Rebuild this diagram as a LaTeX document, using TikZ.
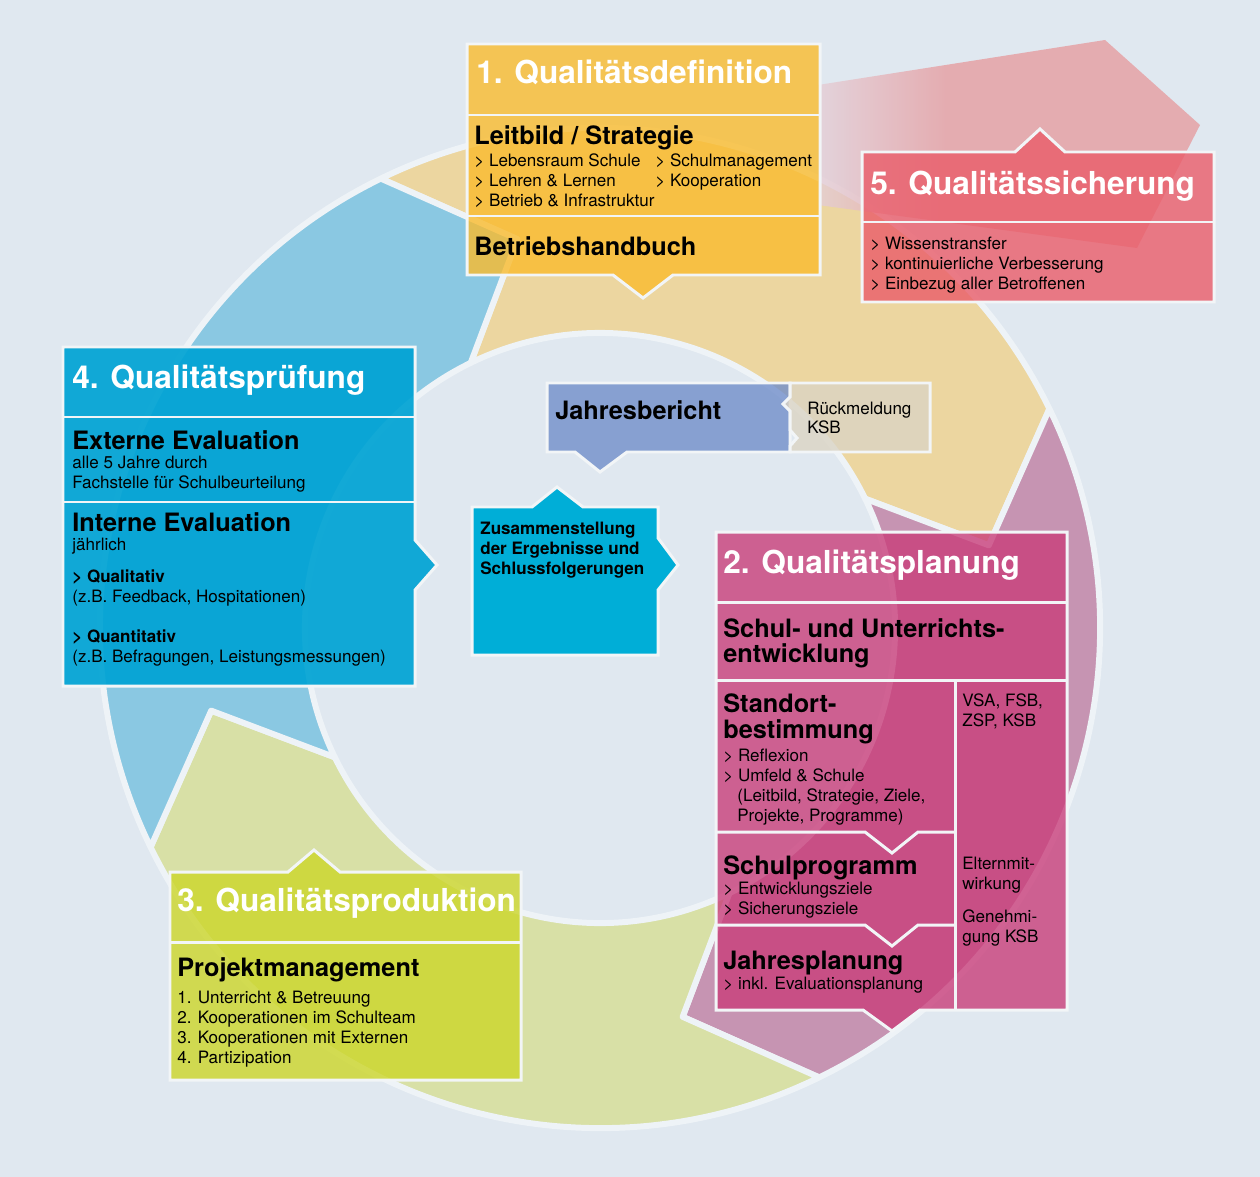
\documentclass[tikz,border=0pt]{standalone}
\usepackage{fontspec}
\setmainfont{TeX Gyre Heros}
\usepackage{xcolor}
\usepackage{tikz}

\definecolor{bgblue}{RGB}{224,232,240}
\definecolor{ringline}{RGB}{238,243,247}
\definecolor{ringyellow}{RGB}{236,214,160}
\definecolor{ringpink}{RGB}{198,148,178}
\definecolor{ringgreen}{RGB}{216,224,166}
\definecolor{ringblue}{RGB}{138,200,226}
\definecolor{redleft}{RGB}{228,206,214}
\definecolor{redarrow}{RGB}{230,157,160}
\definecolor{boxyellow}{RGB}{250,187,45}
\definecolor{boxred}{RGB}{234,92,105}
\definecolor{boxblue}{RGB}{0,163,212}
\definecolor{boxpink}{RGB}{201,62,122}
\definecolor{boxgreen}{RGB}{204,214,40}
\definecolor{midblue}{RGB}{0,174,215}
\definecolor{berichtblue}{RGB}{113,142,202}
\definecolor{feedgrey}{RGB}{219,212,196}
\definecolor{boxline}{RGB}{242,245,247}

\pgfdeclarehorizontalshading{redshade}{100bp}{color(0bp)=(redleft); color(25bp)=(redleft);
  color(42bp)=(redarrow); color(100bp)=(redarrow)}

\newcommand{\titlefont}{\fontsize{18}{21}\selectfont\bfseries}
\newcommand{\headfont}{\fontsize{14.4}{17}\selectfont\bfseries}
\newcommand{\itemfont}{\fontsize{9.7}{11.3}\selectfont}

\begin{document}
\begin{tikzpicture}[x=0.02cm, y=-0.02cm,
    ring/.style={draw=ringline, line width=3.4pt, line join=round},
    box/.style={draw=boxline, line width=1.7pt, fill opacity=0.8},
    sep/.style={draw=boxline, line width=1.7pt},
    title/.style={anchor=base west, inner sep=0pt, text=white, font=\titlefont},
    head/.style={anchor=base west, inner sep=0pt, font=\headfont},
    item/.style={anchor=base west, inner sep=0pt, font=\itemfont}]
  \useasboundingbox (0,0) rectangle (1260,1176);
  \fill[bgblue] (-10,-10) rectangle (1270,1186);

  % ring of four arrows
  \foreach \t/\col [evaluate=\t as \h using \t+90, evaluate=\t as \tip using \t+104,
      evaluate=\t as \notch using \t+14] in {-116/ringyellow, -26/ringpink, 64/ringgreen, 154/ringblue}
    \filldraw[ring, fill=\col, shift={(600,628)}] (\t:500)
      arc[start angle=\t, end angle=\h, radius=500] -- (\tip:397.5) -- (\h:295)
      arc[start angle=\h, end angle=\t, radius=295] -- (\notch:397.5) -- cycle;

  % arrow of 5. Qualitaetssicherung
  \path[shading=redshade, fill opacity=0.8]
    (818,85) -- (1105,40) -- (1200,125) -- (1137,248) -- (818,205) -- cycle;

  % 1. Qualitaetsdefinition
  \filldraw[box, fill=boxyellow] (467,44) -- (820,44) -- (820,275) -- (673,275)
    -- (643,298) -- (613,275) -- (467,275) -- cycle;
  \draw[sep] (467,115) -- (820,115);
  \draw[sep] (467,216) -- (820,216);
  \node[title] (defTitle) at (476,84) {1. Qualitätsdefinition};
  \node[head] (defLeit) at (474,144) {Leitbild / Strategie};
  \foreach \t [count=\i from 0] in {Lebensraum Schule, Lehren \& Lernen, Betrieb \& Infrastruktur}
    \node[item] (defL\i) at (474,166+20*\i) {> \t};
  \foreach \t [count=\i from 0] in {Schulmanagement, Kooperation}
    \node[item] (defR\i) at (655,166+20*\i) {> \t};
  \node[head] (defHandbuch) at (474,255) {Betriebshandbuch};

  % 5. Qualitaetssicherung
  \filldraw[box, fill=boxred] (862,152) -- (1015,152) -- (1040,129) -- (1065,152)
    -- (1214,152) -- (1214,302) -- (862,302) -- cycle;
  \draw[sep] (862,222) -- (1214,222);
  \node[title] (sichTitle) at (870,194) {5. Qualitätssicherung};
  \foreach \t [count=\i from 0] in {Wissenstransfer, kontinuierliche Verbesserung, Einbezug aller Betroffenen}
    \node[item] (sich\i) at (870,249+20*\i) {> \t};

  % 4. Qualitaetspruefung
  \filldraw[box, fill=boxblue, fill opacity=0.92] (63,347) -- (415,347) -- (415,540) -- (437,565)
    -- (415,590) -- (415,686) -- (63,686) -- cycle;
  \draw[sep] (63,417) -- (415,417);
  \draw[sep] (63,502) -- (415,502);
  \node[title] (prufTitle) at (72,388) {4. Qualitätsprüfung};
  \node[head] (prufExt) at (72,449) {Externe Evaluation};
  \node[item] (prufExt1) at (72,468) {alle 5 Jahre durch};
  \node[item] (prufExt2) at (72,488) {Fachstelle für Schulbeurteilung};
  \node[head] (prufInt) at (72,531) {Interne Evaluation};
  \node[item] (prufInt1) at (72,550) {jährlich};
  \node[item, font=\itemfont\bfseries] (prufQual) at (72,582) {> Qualitativ};
  \node[item] (prufQual1) at (72,602) {(z.B. Feedback, Hospitationen)};
  \node[item, font=\itemfont\bfseries] (prufQuant) at (72,642) {> Quantitativ};
  \node[item] (prufQuant1) at (72,662) {(z.B. Befragungen, Leistungsmessungen)};

  % Zusammenstellung
  \filldraw[box, fill=midblue, fill opacity=1] (472,507) -- (532,507) -- (557,487) -- (583,507)
    -- (658,507) -- (658,538) -- (678,565) -- (658,590) -- (658,655) -- (472,655) -- cycle;
  \foreach \t [count=\i from 0] in {Zusammenstellung, der Ergebnisse und, Schlussfolgerungen}
    \node[item, font=\itemfont\bfseries] (zus\i) at (480,534+20*\i) {\t};

  % Jahresbericht und Rueckmeldung
  \filldraw[box, fill=berichtblue] (547,383) -- (790,383) -- (790,452) -- (627,452)
    -- (600,472) -- (575,452) -- (547,452) -- cycle;
  \filldraw[box, fill=feedgrey] (790,383) -- (930,383) -- (930,452) -- (790,452)
    -- (790,446) -- (797,438) -- (790,430) -- (790,411) -- (783,404) -- (790,397) -- cycle;
  \node[head] (bericht) at (555,419) {Jahresbericht};
  \node[item] (feed1) at (807,414) {Rückmeldung};
  \node[item] (feed2) at (807,433) {KSB};

  % 2. Qualitaetsplanung
  \filldraw[box, fill=boxpink] (716,532) -- (1067,532) -- (1067,1010) -- (920,1010)
    -- (892,1031) -- (863,1010) -- (716,1010) -- cycle;
  \draw[sep] (716,602) -- (1067,602);
  \draw[sep] (716,680) -- (1067,680);
  \draw[sep] (955,680) -- (955,1010);
  \draw[sep] (716,832) -- (865,832) -- (892,853) -- (918,832) -- (955,832);
  \draw[sep] (716,925) -- (865,925) -- (892,946) -- (918,925) -- (955,925);
  \node[title] (planTitle) at (723,573) {2. Qualitätsplanung};
  \node[head] (planSchul1) at (723,637) {Schul- und Unterrichts-};
  \node[head] (planSchul2) at (723,662) {entwicklung};
  \node[head] (planStand1) at (723,712) {Standort-};
  \node[head] (planStand2) at (723,738) {bestimmung};
  \node[item] (planRef) at (723,761) {> Reflexion};
  \node[item] (planUmf) at (723,781) {> Umfeld \& Schule};
  \node[item] (planUmf1) at (737,801) {(Leitbild, Strategie, Ziele,};
  \node[item] (planUmf2) at (737,821) {Projekte, Programme)};
  \node[head] (planProg) at (723,874) {Schulprogramm};
  \node[item] (planProg1) at (723,894) {> Entwicklungsziele};
  \node[item] (planProg2) at (723,914) {> Sicherungsziele};
  \node[head] (planJahr) at (723,969) {Jahresplanung};
  \node[item] (planJahr1) at (723,989) {> inkl. Evaluationsplanung};
  \node[item] (planVsa1) at (962,706) {VSA, FSB,};
  \node[item] (planVsa2) at (962,726) {ZSP, KSB};
  \node[item] (planEltern1) at (962,869) {Elternmit-};
  \node[item] (planEltern2) at (962,889) {wirkung};
  \node[item] (planGen1) at (962,922) {Genehmi-};
  \node[item] (planGen2) at (962,942) {gung KSB};

  % 3. Qualitaetsproduktion
  \filldraw[box, fill=boxgreen] (170,872) -- (288,872) -- (314,850) -- (340,872)
    -- (521,872) -- (521,1080) -- (170,1080) -- cycle;
  \draw[sep] (170,942) -- (521,942);
  \node[title] (prodTitle) at (177,911) {3. Qualitätsproduktion};
  \node[head] (prodProj) at (177,976) {Projektmanagement};
  \foreach \t [count=\i] in {Unterricht \& Betreuung, Kooperationen im Schulteam,
      Kooperationen mit Externen, Partizipation}
    \node[item] (prod\i) at (177,983+20*\i) {\i. \t};
\end{tikzpicture}
\end{document}
